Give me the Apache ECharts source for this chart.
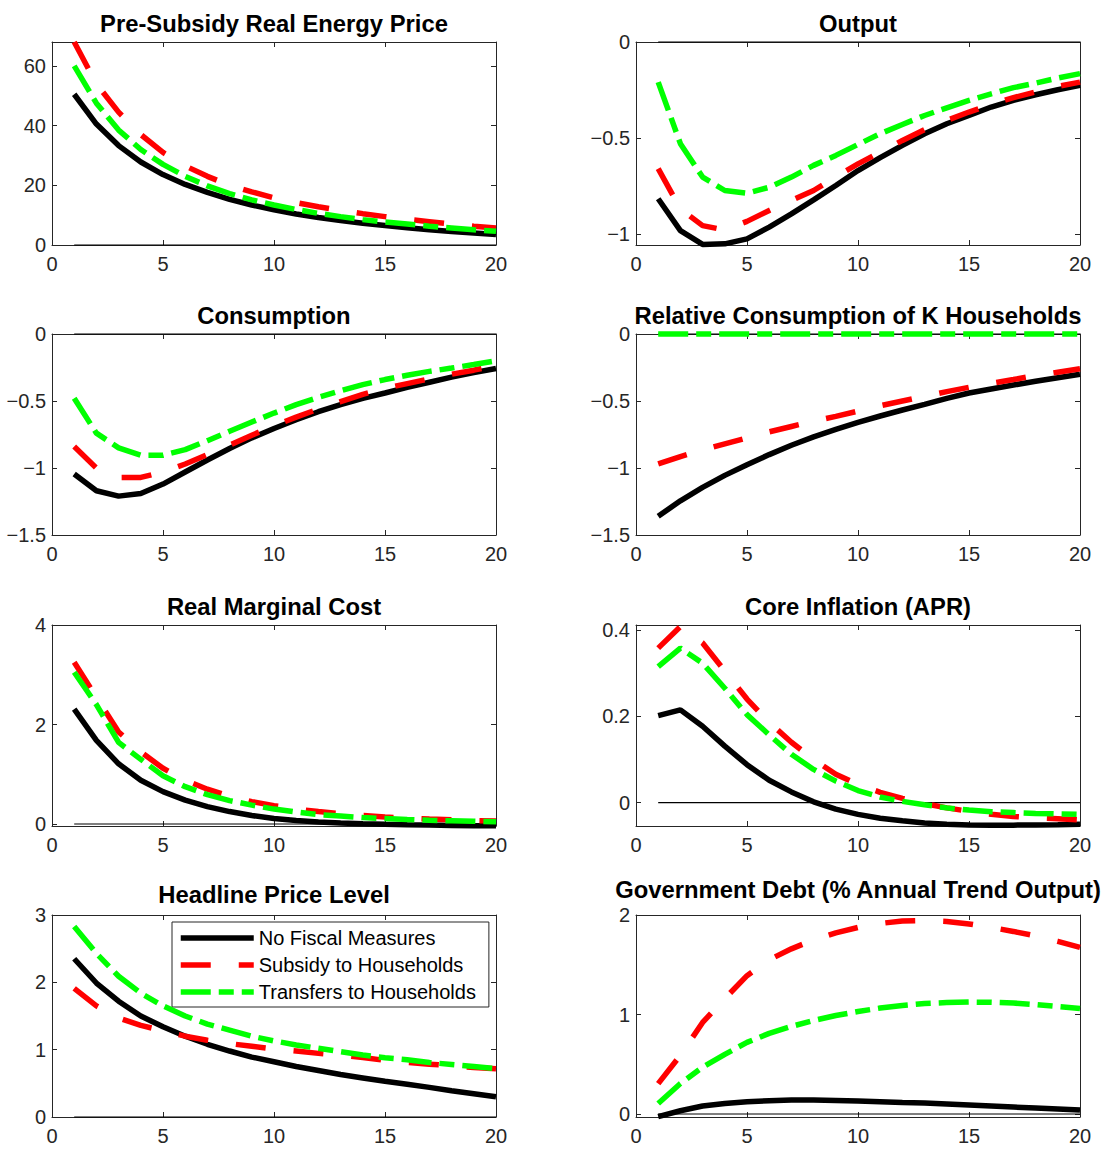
<!DOCTYPE html>
<html>
<head>
<meta charset="utf-8">
<script src="https://cdn.jsdelivr.net/npm/echarts@6/dist/echarts.min.js"></script>
<style>
html,body{margin:0;padding:0;background:#ffffff;}
#chart{width:1103px;height:1149px;}
</style>
</head>
<body>
<div id="chart"></div>
<script>
// ---------------- DATA ----------------
const periods = [1,2,3,4,5,6,7,8,9,10,11,12,13,14,15,16,17,18,19,20];
const seriesNames = ['No Fiscal Measures', 'Subsidy to Households', 'Transfers to Households'];
const xTicks = [0, 5, 10, 15, 20];

const energyNone     = [50.5, 40.5, 33.3, 27.8, 23.6, 20.3, 17.6, 15.3, 13.4, 11.8, 10.4, 9.2, 8.2, 7.3, 6.5, 5.8, 5.1, 4.5, 4.0, 3.5];
const energySubsidy  = [68, 54, 44.5, 37, 31, 26.5, 23, 20, 17.8, 15.8, 14.2, 12.8, 11.6, 10.5, 9.5, 8.6, 7.8, 7.0, 6.3, 5.7];
const energyTransfer = [60, 47.5, 38.5, 32, 27, 23, 19.8, 17.2, 15.1, 13.4, 11.9, 10.6, 9.5, 8.5, 7.7, 7.0, 6.3, 5.7, 5.1, 4.6];

const outputNone     = [-0.817, -0.983, -1.055, -1.052, -1.026, -0.965, -0.896, -0.823, -0.748, -0.67, -0.603, -0.539, -0.478, -0.426, -0.383, -0.339, -0.304, -0.275, -0.249, -0.226];
const outputSubsidy  = [-0.66, -0.87, -0.957, -0.98, -0.935, -0.878, -0.826, -0.774, -0.704, -0.635, -0.574, -0.513, -0.457, -0.409, -0.365, -0.325, -0.29, -0.26, -0.231, -0.209];
const outputTransfer = [-0.209, -0.53, -0.704, -0.774, -0.788, -0.757, -0.704, -0.643, -0.591, -0.534, -0.478, -0.43, -0.383, -0.343, -0.304, -0.27, -0.238, -0.214, -0.188, -0.165];

const consNone     = [-1.045, -1.17, -1.21, -1.19, -1.12, -1.03, -0.94, -0.855, -0.775, -0.705, -0.64, -0.58, -0.527, -0.48, -0.44, -0.398, -0.36, -0.322, -0.288, -0.258];
const consSubsidy  = [-0.84, -1.0, -1.07, -1.07, -1.03, -0.97, -0.9, -0.83, -0.755, -0.685, -0.62, -0.56, -0.505, -0.45, -0.405, -0.37, -0.335, -0.3, -0.27, -0.235];
const consTransfer = [-0.48, -0.74, -0.85, -0.905, -0.905, -0.863, -0.796, -0.726, -0.657, -0.59, -0.527, -0.473, -0.423, -0.378, -0.34, -0.308, -0.279, -0.254, -0.228, -0.2];

const relNone     = [-1.36, -1.245, -1.145, -1.055, -0.975, -0.9, -0.83, -0.768, -0.712, -0.66, -0.612, -0.567, -0.525, -0.48, -0.44, -0.41, -0.381, -0.353, -0.326, -0.3];
const relSubsidy  = [-0.97, -0.915, -0.865, -0.82, -0.775, -0.73, -0.69, -0.65, -0.615, -0.575, -0.535, -0.5, -0.465, -0.43, -0.398, -0.368, -0.34, -0.31, -0.285, -0.26];
const relTransfer = [0, 0, 0, 0, 0, 0, 0, 0, 0, 0, 0, 0, 0, 0, 0, 0, 0, 0, 0, 0];

const mcNone     = [2.31, 1.68, 1.21, 0.88, 0.65, 0.48, 0.35, 0.25, 0.17, 0.11, 0.07, 0.04, 0.02, 0.005, -0.007, -0.015, -0.022, -0.028, -0.033, -0.037];
const mcSubsidy  = [3.25, 2.55, 1.85, 1.45, 1.12, 0.88, 0.7, 0.56, 0.45, 0.37, 0.3, 0.25, 0.21, 0.17, 0.14, 0.12, 0.1, 0.085, 0.07, 0.06];
const mcTransfer = [3.05, 2.4, 1.64, 1.3, 0.97, 0.75, 0.59, 0.47, 0.38, 0.3, 0.24, 0.19, 0.16, 0.13, 0.11, 0.09, 0.075, 0.065, 0.055, 0.045];

const inflNone     = [0.2015, 0.215, 0.177, 0.131, 0.088, 0.052, 0.025, 0.002, -0.015, -0.027, -0.036, -0.042, -0.047, -0.05, -0.0515, -0.052, -0.052, -0.0515, -0.051, -0.05];
const inflSubsidy  = [0.358, 0.408, 0.37, 0.305, 0.24, 0.186, 0.14, 0.1, 0.066, 0.042, 0.024, 0.01, -0.002, -0.012, -0.02, -0.027, -0.032, -0.035, -0.037, -0.04];
const inflTransfer = [0.315, 0.358, 0.323, 0.265, 0.204, 0.157, 0.112, 0.077, 0.05, 0.028, 0.013, 0.003, -0.005, -0.012, -0.017, -0.021, -0.023, -0.025, -0.026, -0.027];

const priceNone     = [2.35, 1.99, 1.72, 1.5, 1.34, 1.2, 1.08, 0.98, 0.89, 0.82, 0.75, 0.69, 0.63, 0.58, 0.53, 0.485, 0.44, 0.39, 0.345, 0.3];
const priceSubsidy  = [1.91, 1.65, 1.47, 1.36, 1.28, 1.2, 1.14, 1.09, 1.05, 1.01, 0.98, 0.945, 0.915, 0.885, 0.84, 0.81, 0.785, 0.76, 0.735, 0.715];
const priceTransfer = [2.83, 2.43, 2.09, 1.84, 1.65, 1.5, 1.38, 1.29, 1.2, 1.13, 1.07, 1.02, 0.97, 0.92, 0.88, 0.85, 0.81, 0.78, 0.75, 0.72];

const debtNone     = [-0.027, 0.033, 0.08, 0.106, 0.123, 0.133, 0.14, 0.14, 0.136, 0.13, 0.123, 0.116, 0.11, 0.1, 0.09, 0.08, 0.07, 0.06, 0.05, 0.04];
const debtSubsidy  = [0.305, 0.59, 0.92, 1.16, 1.39, 1.55, 1.66, 1.75, 1.82, 1.875, 1.915, 1.94, 1.945, 1.935, 1.91, 1.875, 1.835, 1.79, 1.735, 1.675];
const debtTransfer = [0.106, 0.306, 0.47, 0.6, 0.72, 0.81, 0.88, 0.94, 0.99, 1.03, 1.065, 1.09, 1.11, 1.12, 1.125, 1.123, 1.115, 1.1, 1.08, 1.06];

const zeroLine = [0, 0, 0, 0, 0, 0, 0, 0, 0, 0, 0, 0, 0, 0, 0, 0, 0, 0, 0, 0];

const titles = ['Pre-Subsidy Real Energy Price', 'Output', 'Consumption', 'Relative Consumption of K Households',
                'Real Marginal Cost', 'Core Inflation (APR)', 'Headline Price Level', 'Government Debt (% Annual Trend Output)'];
const yTicks = [[0, 20, 40, 60], [-1, -0.5, 0], [-1.5, -1, -0.5, 0], [-1.5, -1, -0.5, 0],
                [0, 2, 4], [0, 0.2, 0.4], [0, 1, 2, 3], [0, 1, 2]];
const yRanges = [[0, 68], [-1.058, 0], [-1.5, 0], [-1.5, 0], [-0.04, 4], [-0.054, 0.4115], [0, 3], [-0.03, 2]];
const panelData = [
  [energyNone, energySubsidy, energyTransfer],
  [outputNone, outputSubsidy, outputTransfer],
  [consNone, consSubsidy, consTransfer],
  [relNone, relSubsidy, relTransfer],
  [mcNone, mcSubsidy, mcTransfer],
  [inflNone, inflSubsidy, inflTransfer],
  [priceNone, priceSubsidy, priceTransfer],
  [debtNone, debtSubsidy, debtTransfer]
];

// ---------------- LAYOUT / STYLE ----------------
const FONT = "'Liberation Sans', Arial, Helvetica, sans-serif";
const AX = '#262626';
const colLeft = [52, 636];
const plotW = 444;
const rowTop = [42, 334, 625, 915];
const rowH = [203, 201, 201, 202];
const titleOffset = [18.5, 18.5, 19, 19, 19, 19, 21, 26];
const LW = 5.5;
const lineStyles = [
  {color: '#000000', width: LW, type: 'solid'},
  {color: '#ff0000', width: LW, type: [30, 28]},
  {color: '#00ff00', width: LW, type: [30, 8, 15, 8]}
];
const fmt = v => (v < 0 ? '\u2212' + String(Math.abs(v)) : String(v));

const grids = [], xAxes = [], yAxes = [], series = [], graphics = [];
for (let i = 0; i < 8; i++) {
  const col = i % 2, row = Math.floor(i / 2);
  grids.push({left: colLeft[col], top: rowTop[row], width: plotW, height: rowH[row], containLabel: false});
  const xBase = {
    gridIndex: i, type: 'value', min: 0, max: 20, interval: 5,
    axisLine: {show: true, onZero: false, lineStyle: {color: AX, width: 1}},
    axisTick: {show: true, inside: true, length: 5, lineStyle: {color: AX, width: 1}},
    splitLine: {show: false}
  };
  xAxes.push(Object.assign({}, xBase, {position: 'bottom',
    axisLabel: {show: true, margin: 9, color: AX, fontSize: 20, fontFamily: FONT, showMinLabel: true, showMaxLabel: true}}));
  xAxes.push(Object.assign({}, xBase, {position: 'top', axisLabel: {show: false}}));
  const yBase = {
    gridIndex: i, type: 'value', min: yRanges[i][0], max: yRanges[i][1],
    axisLine: {show: true, onZero: false, lineStyle: {color: AX, width: 1}},
    axisTick: {show: true, inside: true, length: 5, lineStyle: {color: AX, width: 1}, customValues: yTicks[i]},
    splitLine: {show: false}
  };
  yAxes.push(Object.assign({}, yBase, {position: 'left',
    axisLabel: {show: true, margin: 6, color: AX, fontSize: 20, fontFamily: FONT, customValues: yTicks[i], formatter: fmt}}));
  yAxes.push(Object.assign({}, yBase, {position: 'right', axisLabel: {show: false}}));

  series.push({
    name: 'zero', type: 'line', xAxisIndex: 2 * i, yAxisIndex: 2 * i,
    data: periods.map((p, k) => [p, zeroLine[k]]),
    showSymbol: false, symbol: 'none', silent: true, clip: false, z: 1,
    lineStyle: {color: '#000000', width: 1.2}
  });
  for (let s = 0; s < 3; s++) {
    series.push({
      name: seriesNames[s], type: 'line', xAxisIndex: 2 * i, yAxisIndex: 2 * i,
      data: periods.map((p, k) => [p, panelData[i][s][k]]),
      showSymbol: false, symbol: 'none', silent: true, clip: false, z: 2 + s,
      itemStyle: {color: lineStyles[s].color},
      lineStyle: lineStyles[s]
    });
  }
  graphics.push({
    type: 'text', x: colLeft[col] + plotW / 2, y: rowTop[row] - titleOffset[i],
    style: {text: titles[i], font: 'bold 23.8px ' + FONT, fill: '#000000',
            align: 'center', verticalAlign: 'middle', textAlign: 'center', textVerticalAlign: 'middle'}
  });
}

const chart = echarts.init(document.getElementById('chart'), null, {renderer: 'svg'});
chart.setOption({
  backgroundColor: '#ffffff',
  animation: false,
  grid: grids,
  xAxis: xAxes,
  yAxis: yAxes,
  series: series,
  graphic: graphics,
  legend: {
    data: seriesNames, orient: 'vertical', left: 172, top: 922,
    itemWidth: 73, itemHeight: 14, itemGap: 7,
    padding: [6, 13, 5, 6],
    borderColor: AX, borderWidth: 1, backgroundColor: '#ffffff',
    selectedMode: false,
    itemStyle: {opacity: 0, borderWidth: 0},
    lineStyle: {width: LW},
    textStyle: {fontSize: 20, color: '#000000', fontFamily: FONT}
  }
});
</script>
</body>
</html>
